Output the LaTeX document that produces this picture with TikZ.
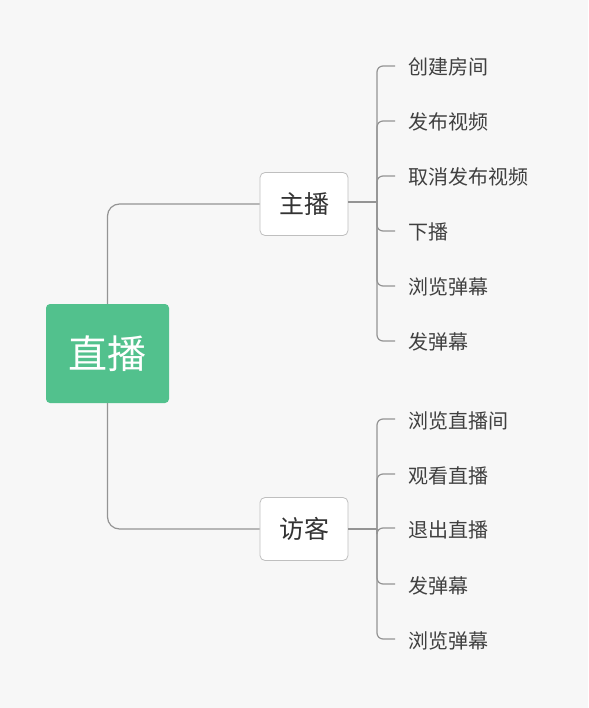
\documentclass[tikz,border=0pt]{standalone}
\usepackage{fontspec}
\setmainfont{Noto Sans CJK SC}
\begin{document}
\begin{tikzpicture}[x=1pt,y=-1pt,
  conn/.style={draw=black!42, line width=1.2pt, rounded corners=6pt},
  rootbox/.style={fill=rootgreen, rounded corners=4pt, minimum width=123pt, minimum height=99pt, inner sep=0pt, text=white, font=\fontsize{39}{41}\selectfont},
  midbox/.style={draw=black!25, fill=white, line width=0.8pt, rounded corners=5pt, minimum width=88pt, minimum height=63pt, inner sep=0pt, text=black!80, font=\fontsize{25}{27}\selectfont},
  leaf/.style={anchor=west, inner sep=0pt, text=black!75, font=\fontsize{20}{22}\selectfont}]
\definecolor{rootgreen}{HTML}{52C18D}
\fill[black!3] (0,0) rectangle (588,708);
\useasboundingbox (0,0) rectangle (588,708);
\node[rootbox] (root) at (107.5,353.5) {直播};
\node[midbox] (zb) at (304,204) {主播};
\node[midbox] (fk) at (304,529) {访客};
\draw[conn, rounded corners=12pt] (root.north) -- (root.north |- zb.west) -- (zb.west);
\draw[conn, rounded corners=12pt] (root.south) -- (root.south |- fk.west) -- (fk.west);
\coordinate (jz) at (377,202);
\coordinate (jf) at (377,529);
\draw[conn] (zb.east |- jz) -- (jz);
\draw[conn] (fk.east |- jf) -- (jf);
% leaves of 主播
\foreach \i/\t/\y in {a1/创建房间/67, a2/发布视频/122, a3/取消发布视频/177, a4/下播/232, a5/浏览弹幕/287, a6/发弹幕/342}{
  \node[leaf] (\i) at (408,\y) {\t};
  \coordinate (\i t) at (395,\y-1);
  \draw[conn] (jz) -- (jz |- \i t) -- (\i t);
}
% leaves of 访客
\foreach \i/\t/\y in {b1/浏览直播间/421, b2/观看直播/476, b3/退出直播/530, b4/发弹幕/586, b5/浏览弹幕/641}{
  \node[leaf] (\i) at (408,\y) {\t};
  \coordinate (\i t) at (395,\y-2);
  \draw[conn] (jf) -- (jf |- \i t) -- (\i t);
}
\end{tikzpicture}
\end{document}
